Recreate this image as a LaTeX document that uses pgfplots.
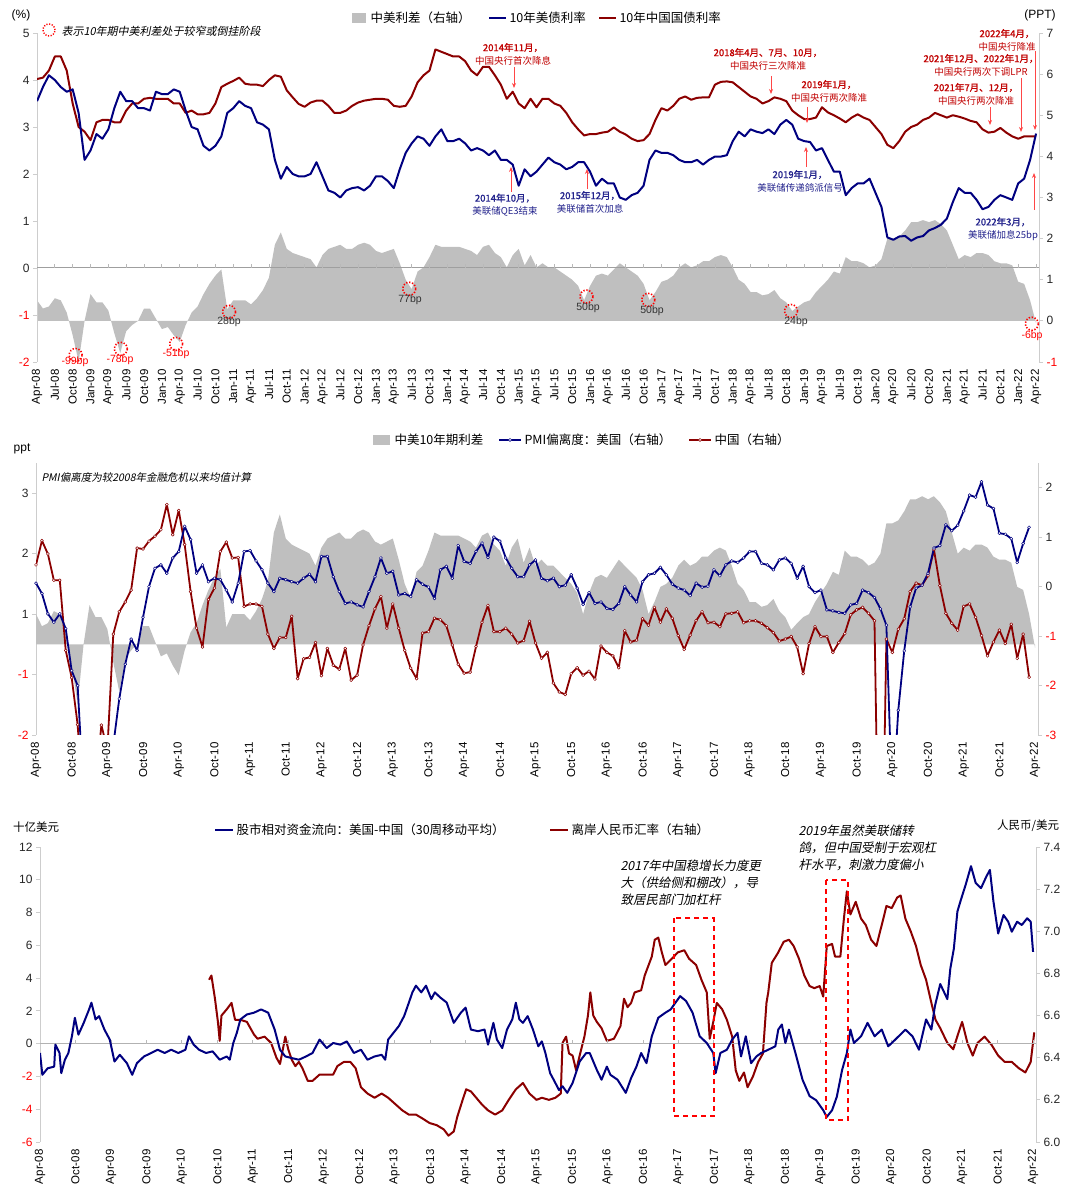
\documentclass[border=0pt]{standalone}
\usepackage{pgfplots}
\pgfplotsset{compat=1.18}
\usepackage{pgfplotstable}
\usetikzlibrary{arrows.meta}
\usepackage{fontspec}
\setmainfont{Liberation Sans}
\newfontfamily\cjk{Noto Sans CJK SC}
\newfontfamily\cjkit[FakeSlant=0.2]{Noto Sans CJK SC}
\newfontfamily\cjkb[FakeBold=1.5]{Noto Sans CJK SC}
\newcommand\fsz[2]{\fontsize{#1}{#2}\selectfont}
\definecolor{usblue}{RGB}{0,0,128}
\definecolor{cnred}{RGB}{139,0,0}
\definecolor{areagray}{RGB}{191,191,191}
\definecolor{annred}{RGB}{192,0,0}
\definecolor{arrred}{RGB}{255,70,70}
\definecolor{annblue}{RGB}{35,35,140}
\definecolor{axgray}{RGB}{205,205,205}
\newcommand\rd[1]{\textcolor{red}{#1}}

\pgfplotstableread{
m cn us sp
0 4.02 3.55 0.5
1 4.05 3.85 0.3
2 4.2 4.1 0.35
3 4.5 4.0 0.55
4 4.5 3.85 0.5
5 4.2 3.75 0.2
6 3.5 3.8 -0.35
7 3.0 3.3 -0.99
8 2.9 2.3 0.0
9 2.72 2.5 0.65
10 3.1 2.85 0.45
11 3.15 2.75 0.45
12 3.15 2.95 0.25
13 3.1 3.4 -0.3
14 3.1 3.75 -0.78
15 3.35 3.55 -0.25
16 3.5 3.55 -0.1
17 3.5 3.4 0.0
18 3.6 3.4 0.3
19 3.62 3.35 0.3
20 3.6 3.75 0.05
21 3.6 3.7 -0.2
22 3.6 3.7 -0.15
23 3.5 3.8 -0.35
24 3.5 3.75 -0.51
25 3.3 3.35 -0.1
26 3.35 3.0 0.2
27 3.27 2.95 0.35
28 3.27 2.6 0.65
29 3.3 2.5 0.9
30 3.5 2.6 1.1
31 3.85 2.8 1.25
32 3.92 3.3 0.28
33 3.98 3.4 0.5
34 4.05 3.55 0.5
35 3.92 3.45 0.5
36 3.9 3.4 0.4
37 3.9 3.1 0.55
38 3.87 3.05 0.75
39 4.0 2.95 1.05
40 4.1 2.3 1.85
41 4.07 1.9 2.15
42 3.78 2.15 1.75
43 3.63 2.0 1.65
44 3.49 1.95 1.6
45 3.43 1.95 1.55
46 3.52 2.0 1.5
47 3.56 2.25 1.3
48 3.56 1.95 1.6
49 3.45 1.65 1.75
50 3.3 1.6 1.8
51 3.3 1.5 1.85
52 3.35 1.65 1.75
53 3.45 1.7 1.75
54 3.52 1.72 1.85
55 3.56 1.65 1.9
56 3.58 1.75 1.85
57 3.6 1.95 1.7
58 3.6 1.95 1.65
59 3.58 1.85 1.7
60 3.45 1.7 1.75
61 3.43 2.1 1.4
62 3.45 2.45 1.0
63 3.65 2.65 0.77
64 3.95 2.8 1.2
65 4.1 2.75 1.3
66 4.2 2.6 1.55
67 4.65 2.8 1.85
68 4.6 2.95 1.8
69 4.55 2.7 1.8
70 4.5 2.7 1.8
71 4.5 2.75 1.8
72 4.4 2.65 1.75
73 4.2 2.5 1.7
74 4.1 2.55 1.6
75 4.28 2.5 1.8
76 4.28 2.4 1.85
77 4.1 2.5 1.65
78 3.9 2.3 1.55
79 3.6 2.3 1.3
80 3.75 2.2 1.6
81 3.5 1.75 1.75
82 3.4 2.1 1.35
83 3.6 1.95 1.6
84 3.42 2.05 1.3
85 3.6 2.2 1.4
86 3.6 2.35 1.3
87 3.5 2.25 1.3
88 3.45 2.2 1.2
89 3.3 2.1 1.1
90 3.1 2.15 1.0
91 2.95 2.25 0.85
92 2.82 2.25 0.5
93 2.85 2.05 0.85
94 2.85 1.75 1.1
95 2.88 1.9 1.15
96 2.9 1.8 1.1
97 2.99 1.8 1.25
98 2.9 1.5 1.4
99 2.84 1.45 1.3
100 2.75 1.55 1.2
101 2.7 1.6 1.1
102 2.72 1.75 0.9
103 2.85 2.3 0.5
104 3.15 2.5 0.7
105 3.4 2.45 0.95
106 3.35 2.45 1.0
107 3.45 2.4 1.1
108 3.6 2.3 1.3
109 3.65 2.25 1.4
110 3.58 2.25 1.3
111 3.62 2.3 1.35
112 3.63 2.2 1.45
113 3.63 2.3 1.45
114 3.9 2.37 1.55
115 3.96 2.37 1.6
116 3.97 2.4 1.55
117 3.95 2.7 1.3
118 3.85 2.9 1.0
119 3.75 2.8 0.9
120 3.65 2.95 0.7
121 3.6 2.9 0.7
122 3.5 2.87 0.62
123 3.55 2.95 0.65
124 3.63 2.85 0.75
125 3.6 3.05 0.55
126 3.55 3.15 0.45
127 3.35 3.05 0.24
128 3.25 2.75 0.35
129 3.17 2.7 0.45
130 3.17 2.68 0.5
131 3.2 2.5 0.7
132 3.42 2.55 0.85
133 3.31 2.3 1.0
134 3.25 2.05 1.2
135 3.18 2.05 1.15
136 3.1 1.55 1.55
137 3.2 1.7 1.45
138 3.27 1.8 1.45
139 3.2 1.8 1.4
140 3.15 1.9 1.3
141 3.0 1.6 1.35
142 2.85 1.3 1.5
143 2.62 0.65 2.0
144 2.55 0.6 2.0
145 2.7 0.67 2.05
146 2.9 0.68 2.2
147 3.0 0.58 2.4
148 3.05 0.65 2.4
149 3.15 0.68 2.45
150 3.2 0.8 2.4
151 3.3 0.85 2.45
152 3.25 0.92 2.35
153 3.2 1.05 2.2
154 3.25 1.4 1.85
155 3.22 1.7 1.5
156 3.18 1.6 1.6
157 3.13 1.6 1.55
158 3.1 1.45 1.65
159 2.95 1.25 1.65
160 2.88 1.3 1.6
161 2.9 1.45 1.45
162 2.98 1.55 1.4
163 2.88 1.5 1.4
164 2.8 1.45 1.35
165 2.75 1.8 0.95
166 2.8 1.9 0.9
167 2.8 2.3 0.5
168 2.8 2.86 -0.06
}\tabA

\pgfplotstableread{
m us cn
0 0.07 0.44
1 -0.14 0.93
2 -0.55 0.66
3 -0.72 0.13
4 -0.55 0.13
5 -0.85 -1.29
6 -1.7 -1.84
7 -2.0 -2.79
8 -4.2 -4.5
9 -5.0 -5.0
10 -5.0 -4.0
11 -4.5 -2.8
12 -4.0 -3.3
13 -3.2 -0.96
14 -2.27 -0.51
15 -1.57 -0.31
16 -1.06 -0.07
17 -1.29 0.78
18 -0.62 0.76
19 0.0 0.92
20 0.37 1.02
21 0.44 1.15
22 0.27 1.66
23 0.58 1.05
24 0.71 1.54
25 1.22 0.85
26 0.95 -0.1
27 0.27 -0.84
28 0.44 -1.22
29 0.1 -0.26
30 0.17 -0.03
31 0.14 0.71
32 -0.07 0.9
33 -0.31 0.58
34 0.07 0.59
35 0.71 -0.4
36 0.73 -0.35
37 0.52 -0.35
38 0.34 -0.4
39 0.07 -0.96
40 -0.1 -1.25
41 0.17 -1.03
42 0.14 -1.03
43 0.1 -0.6
44 0.07 -1.86
45 0.17 -1.46
46 0.25 -1.43
47 0.1 -1.13
48 0.61 -1.8
49 0.61 -1.25
50 0.2 -1.59
51 -0.1 -1.67
52 -0.34 -1.25
53 -0.31 -1.89
54 -0.37 -1.79
55 -0.41 -1.18
56 -0.1 -0.79
57 0.2 -0.45
58 0.58 -0.2
59 0.27 -0.84
60 0.31 -0.35
61 -0.17 -0.84
62 -0.14 -1.29
63 -0.2 -1.65
64 0.14 -1.86
65 0.05 -0.94
66 -0.01 -0.91
67 -0.24 -0.64
68 0.34 -0.67
69 0.41 -0.79
70 0.17 -1.18
71 0.83 -1.57
72 0.51 -1.75
73 0.47 -1.73
74 0.71 -1.21
75 0.88 -0.72
76 0.59 -0.38
77 1.0 -0.91
78 0.92 -0.91
79 0.58 -0.84
80 0.37 -0.96
81 0.2 -1.14
82 0.2 -1.09
83 0.44 -0.7
84 0.54 -1.14
85 0.17 -1.45
86 0.12 -1.33
87 0.17 -1.95
88 0.0 -2.13
89 0.03 -2.18
90 0.24 -1.76
91 -0.03 -1.64
92 -0.36 -1.79
93 -0.12 -1.71
94 -0.34 -1.87
95 -0.31 -1.2
96 -0.44 -1.33
97 -0.46 -1.4
98 -0.34 -1.64
99 0.0 -0.89
100 -0.17 -1.12
101 -0.31 -1.08
102 0.1 -0.65
103 0.24 -0.78
104 0.27 -0.42
105 0.39 -0.72
106 0.24 -0.45
107 0.05 -0.64
108 -0.03 -0.99
109 -0.07 -1.27
110 -0.18 -0.98
111 0.07 -0.69
112 -0.01 -0.51
113 0.01 -0.73
114 0.34 -0.72
115 0.22 -0.81
116 0.44 -0.55
117 0.52 -0.54
118 0.49 -0.51
119 0.58 -0.73
120 0.71 -0.69
121 0.71 -0.69
122 0.47 -0.74
123 0.44 -0.83
124 0.34 -0.93
125 0.54 -1.1
126 0.58 -1.06
127 0.47 -1.01
128 0.17 -1.22
129 0.41 -1.76
130 0.0 -1.15
131 -0.12 -0.81
132 -0.07 -1.01
133 -0.47 -1.01
134 -0.49 -1.33
135 -0.52 -1.13
136 -0.54 -0.95
137 -0.37 -0.57
138 -0.34 -0.47
139 -0.07 -0.42
140 -0.12 -0.54
141 -0.22 -0.69
142 -0.45 -8.0
143 -0.78 -1.06
144 -4.5 -1.33
145 -2.5 -0.86
146 -1.3 -0.65
147 -0.41 -0.1
148 -0.03 0.07
149 0.03 0.03
150 0.27 0.22
151 0.78 0.75
152 0.83 0.02
153 1.25 -0.54
154 1.13 -0.74
155 1.24 -0.88
156 1.53 -0.4
157 1.85 -0.35
158 1.81 -0.62
159 2.12 -0.99
160 1.65 -1.4
161 1.58 -1.12
162 1.08 -0.88
163 1.06 -1.15
164 0.97 -0.76
165 0.49 -1.45
166 0.87 -0.96
167 1.2 -1.83
}\tabB

\pgfplotstableread{
x y
0 -0.57
0.4 -1.9
1.3 -1.5
2.4 -1.4
2.6 -0.06
3.3 -0.57
3.6 -1.8
4.2 -1.0
4.8 -0.57
5.4 0.45
5.9 1.58
6.5 0.55
7.4 1.27
8.3 2.09
8.7 2.5
9.4 1.48
10 1.68
10.9 0.86
11.8 0.25
12.6 -1.09
13.5 -0.68
14.7 -1.19
15.6 -1.9
16.4 -1.19
17.6 -0.78
18.8 -0.57
19.9 -0.37
21.1 -0.57
22.2 -0.37
23.4 -0.57
24.6 -0.37
25.2 0.45
26 -0.06
26.9 -0.37
28.1 -0.57
29.2 -0.47
30.4 -0.98
31.6 -0.78
32.1 -0.98
32.7 0.04
33.3 0.66
33.9 1.48
35 1.78
36.2 1.89
37.4 2.09
38.6 1.89
39.7 0.86
40.6 -0.37
41.5 -0.78
42.6 -0.88
43.8 -0.98
45 -0.78
46.1 -0.57
47.3 0.25
48.5 -0.27
49.6 0.04
50.8 -0.06
51.9 0.14
53.1 -0.57
54.3 -0.37
55.4 -0.98
56.6 -0.78
57.8 -0.68
58.4 -0.98
58.9 0.25
59.8 0.66
60.7 1.07
61.6 1.68
62.4 2.5
63 3.13
63.6 3.54
64.5 3.13
65.3 3.54
66.2 2.72
66.8 3.13
67.7 2.82
68.8 2.51
70 1.27
71.2 1.89
72 2.2
72.9 0.86
74.1 0.76
75.2 0.86
75.8 -0.06
76.7 1.27
77.3 0.25
78.2 -0.27
79 0.86
79.9 1.48
80.5 2.5
81.1 1.48
81.7 1.27
82.5 1.68
83.4 0.86
84.3 -0.16
84.9 0.14
85.5 -0.57
86.3 -1.8
86.9 -2.2
87.8 -2.83
88.4 -2.6
89.2 -3.0
90.1 -2.4
91.3 -1.09
92.4 -0.57
93 -0.57
94.2 -1.6
95 -2.2
95.9 -1.4
96.5 -1.9
97.7 -2.2
99.1 -3.0
100 -2.1
100.9 -1.4
101.7 -0.57
102.6 -1.19
103.5 0.45
104.6 1.58
105.8 1.89
106.7 2.09
107.5 2.5
108.3 2.9
109.3 2.6
110.4 1.89
111.6 0.45
112.8 0.04
113.9 -0.57
114.3 -1.8
115.1 -0.57
116.2 -0.37
117.1 0.25
118 0.66
118.6 -0.78
119.4 0.45
120.3 -1.19
121.2 -0.78
122 -0.57
123.2 -0.37
124.4 -0.16
124.9 0.86
125.5 1.17
126.1 0.04
126.7 0.86
127.8 -0.57
129 -2.2
130.2 -3.2
131.3 -3.45
132.5 -4.06
133.1 -4.47
134 -4.06
134.8 -3.24
135.7 -1.6
136.5 -0.57
137.1 0.86
137.7 0.04
138.9 0.45
140 1.27
141.2 0.45
142.4 0.86
143.5 -0.16
144.7 0.25
146.4 0.86
147.6 0.45
148.7 -0.37
149.9 1.48
150.8 0.86
151.4 2.3
152.3 3.64
153.5 2.72
154 4.57
154.6 5.8
155.2 8.06
155.7 8.67
156.6 9.7
157.5 10.83
158.3 9.8
159.2 9.49
160.1 10.2
160.7 10.6
161.3 8.67
162.1 6.72
163 7.85
163.8 7.44
164.4 6.83
165.3 7.44
166.1 7.24
167 7.65
167.6 7.44
168 5.6
}\tabC

\pgfplotstableread{
x y
28.6 6.77
29 6.79
29.6 6.68
30.1 6.57
30.4 6.48
30.7 6.6
31.6 6.63
32.4 6.66
33 6.58
33.9 6.58
35 6.57
36.2 6.51
36.8 6.49
38 6.5
39.1 6.47
40 6.4
40.6 6.37
41.5 6.5
42 6.44
42.6 6.39
43.2 6.36
43.8 6.38
44.4 6.35
45.3 6.29
46.1 6.29
47.3 6.32
48.5 6.32
49.6 6.32
50.3 6.36
51.4 6.38
52.5 6.38
53.4 6.35
54.3 6.26
55.4 6.23
56.6 6.21
57.8 6.23
58.9 6.21
60.1 6.18
61.3 6.15
62.4 6.13
63.6 6.13
64.8 6.11
65.9 6.09
67.1 6.08
68.3 6.06
69.1 6.03
70 6.05
70.6 6.12
71.5 6.2
72.1 6.25
72.9 6.24
73.8 6.21
74.7 6.18
75.8 6.15
77 6.13
78.2 6.15
79.3 6.2
80.5 6.25
81.7 6.28
82.8 6.23
84 6.2
84.9 6.21
86.1 6.2
87.2 6.21
88.1 6.23
88.4 6.47
89 6.5
89.5 6.42
90.1 6.41
90.7 6.34
91.3 6.41
92.1 6.5
92.7 6.6
93.1 6.71
93.6 6.6
94.2 6.57
95 6.54
95.9 6.48
97.1 6.49
98.2 6.55
98.8 6.68
99.4 6.64
100 6.66
100.6 6.71
101.7 6.72
102.3 6.79
103.5 6.88
104 6.96
104.6 6.97
105.2 6.9
105.8 6.84
106.9 6.87
107.9 6.9
109 6.91
109.8 6.87
111 6.84
111.9 6.77
112.8 6.71
113.3 6.49
113.9 6.57
114.5 6.66
115.4 6.63
116.2 6.58
117.1 6.5
117.7 6.34
118.3 6.29
119.1 6.33
119.7 6.26
120.6 6.31
121.5 6.38
122.3 6.42
122.9 6.66
123.2 6.71
123.8 6.85
124.9 6.9
125.8 6.95
126.7 6.96
127.5 6.93
128.4 6.87
129.3 6.79
130.2 6.74
131 6.73
131.9 6.74
132.5 6.69
133.1 6.93
134 6.94
134.5 6.88
135.4 6.88
136 7.06
136.5 7.19
137.1 7.08
138 7.14
138.9 7.06
139.7 7.03
140.6 6.96
141.5 6.93
142.4 7.03
143.2 7.12
144.1 7.11
145 7.16
145.6 7.17
146.4 7.06
147.3 7.0
148.2 6.93
149 6.84
149.9 6.77
150.8 6.66
151.5 6.58
152.3 6.54
153.5 6.47
154.5 6.44
155.4 6.52
156 6.57
156.9 6.47
157.8 6.41
158.6 6.47
159.8 6.5
161 6.46
162.1 6.41
163.2 6.38
164.4 6.38
165.6 6.35
166.7 6.33
167.6 6.38
168.2 6.52
}\tabD

\pgfplotsset{
  base/.style={scale only axis, anchor=south west, xmin=0, xmax=168.5,
    /pgf/number format/assume math mode=true,
    tick label style={font=\fsz{12}{12}, text=black!85},
    axis line style={draw=axgray, line width=0.9pt},
    tick align=outside, major tick length=4pt,
    tick style={draw=axgray, line width=0.9pt},
  },
  xlab/.style={axis x line*=bottom, x axis line style={draw=none},
    major x tick style={draw=none},
    xticklabel style={rotate=90, anchor=east, font=\fsz{11.5}{12}, text=black},
  },
}

\begin{document}
\begin{tikzpicture}
\path[use as bounding box] (0pt,0pt) rectangle (1080pt,1196pt);

%%%%%%%% PANEL 1
\begin{axis}[base, xlab, at={(37pt,834pt)}, width=1002pt, height=329pt,
  ymin=-1, ymax=7, axis y line*=right,
  xtick={0,3,...,168},
  xticklabels={Apr-08,Jul-08,Oct-08,Jan-09,Apr-09,Jul-09,Oct-09,Jan-10,Apr-10,Jul-10,Oct-10,Jan-11,Apr-11,Jul-11,Oct-11,Jan-12,Apr-12,Jul-12,Oct-12,Jan-13,Apr-13,Jul-13,Oct-13,Jan-14,Apr-14,Jul-14,Oct-14,Jan-15,Apr-15,Jul-15,Oct-15,Jan-16,Apr-16,Jul-16,Oct-16,Jan-17,Apr-17,Jul-17,Oct-17,Jan-18,Apr-18,Jul-18,Oct-18,Jan-19,Apr-19,Jul-19,Oct-19,Jan-20,Apr-20,Jul-20,Oct-20,Jan-21,Apr-21,Jul-21,Oct-21,Jan-22,Apr-22},
  ytick={-1,0,...,7}, yticklabels={\rd{-1},0,1,2,3,4,5,6,7}]
\addplot[fill=areagray, draw=none] table[x=m,y=sp]{\tabA} \closedcycle;
\addplot[only marks, mark=o, mark size=6.5pt, mark options={draw=red, line width=1.6pt, dash pattern=on 1.3pt off 1.7pt}]
 coordinates {(6.5,-0.83) (14.1,-0.68) (23.4,-0.56) (32.3,0.22) (62.6,0.78) (92.4,0.59) (102.8,0.51) (126.8,0.24) (167.3,-0.07)};
\end{axis}

\begin{axis}[base, at={(37pt,834pt)}, width=1002pt, height=329pt,
  ymin=-2, ymax=5, axis y line*=left, axis x line=none,
  ytick={-2,-1,...,5}, yticklabels={\rd{-2},\rd{-1},0,1,2,3,4,5}]
\draw[gray!75, line width=1pt] (axis cs:0,0) -- (axis cs:168.5,0);
\pgfplotsinvokeforeach{3,6,...,168}{\draw[gray!55, line width=0.8pt] (axis cs:#1,0) -- ++(0pt,4pt);}
\addplot[cnred, line width=2pt, line join=round] table[x=m,y=cn]{\tabA};
\addplot[usblue, line width=2pt, line join=round] table[x=m,y=us]{\tabA};
\end{axis}

%%%%%%%% PANEL 2
\begin{axis}[base, xlab, at={(36pt,461pt)}, width=1002pt, height=272pt,
  ymin=-1.5, ymax=3.0, axis y line*=left,
  xtick={0,6,...,168},
  xticklabels={Apr-08,Oct-08,Apr-09,Oct-09,Apr-10,Oct-10,Apr-11,Oct-11,Apr-12,Oct-12,Apr-13,Oct-13,Apr-14,Oct-14,Apr-15,Oct-15,Apr-16,Oct-16,Apr-17,Oct-17,Apr-18,Oct-18,Apr-19,Oct-19,Apr-20,Oct-20,Apr-21,Oct-21,Apr-22},
  ytick={-1.5,-0.5,0.5,1.5,2.5}, yticklabels={\rd{-2},\rd{-1},1,2,3}]
\addplot[fill=areagray, draw=none] table[x=m,y=sp]{\tabA} \closedcycle;
\end{axis}

\begin{axis}[base, at={(36pt,461pt)}, width=1002pt, height=272pt,
  ymin=-3, ymax=2.5, axis y line*=right, axis x line=none,
  ytick={-3,-2,...,2}, yticklabels={\rd{-3},\rd{-2},\rd{-1},0,1,2}]
\addplot[cnred, line width=1.8pt, line join=round, mark=*, mark size=1.5pt,
  mark options={fill=white, draw=cnred, line width=0.5pt}] table[x=m,y=cn]{\tabB};
\addplot[usblue, line width=1.8pt, line join=round, mark=*, mark size=1.5pt,
  mark options={fill=white, draw=usblue, line width=0.5pt}] table[x=m,y=us]{\tabB};
\end{axis}

%%%%%%%% PANEL 3
\begin{axis}[base, xlab, at={(40pt,54pt)}, width=996pt, height=295pt,
  ymin=6.0, ymax=7.4, axis y line*=right,
  xtick={0,6,...,168},
  xticklabels={Apr-08,Oct-08,Apr-09,Oct-09,Apr-10,Oct-10,Apr-11,Oct-11,Apr-12,Oct-12,Apr-13,Oct-13,Apr-14,Oct-14,Apr-15,Oct-15,Apr-16,Oct-16,Apr-17,Oct-17,Apr-18,Oct-18,Apr-19,Oct-19,Apr-20,Oct-20,Apr-21,Oct-21,Apr-22},
  ytick={6.0,6.2,...,7.41}, yticklabels={6.0,6.2,6.4,6.6,6.8,7.0,7.2,7.4}]
\addplot[cnred, line width=2pt, line join=round] table[x=x,y=y]{\tabD};
\end{axis}

\begin{axis}[base, at={(40pt,54pt)}, width=996pt, height=295pt,
  ymin=-6, ymax=12, axis y line*=left, axis x line=none,
  ytick={-6,-4,...,12}, yticklabels={\rd{-6},\rd{-4},\rd{-2},0,2,4,6,8,10,12}]
\draw[gray!60, line width=1pt] (axis cs:0,0) -- (axis cs:168.5,0);
\pgfplotsinvokeforeach{6,12,...,168}{\draw[gray!55, line width=0.8pt] (axis cs:#1,0) -- ++(0pt,4pt);}
\addplot[usblue, line width=2pt, line join=round] table[x=x,y=y]{\tabC};
\draw[red, line width=1.6pt, dash pattern=on 5pt off 4pt] (axis cs:107.3,7.67) rectangle (axis cs:114.0,-4.41);
\draw[red, line width=1.6pt, dash pattern=on 5pt off 4pt] (axis cs:133.0,9.99) rectangle (axis cs:136.7,-4.66);
\end{axis}

%%%%%%%% ANNOTATIONS
\begin{scope}[x=1pt,y=1pt]
% panel 1 header
\node[font=\fsz{12}{12}] at (21,1181) {(\%)};
\node[font=\fsz{12}{12}] at (1040,1181) {(PPT)};
\draw[red, line width=1.4pt, dash pattern=on 1.2pt off 1.5pt] (49,1166) circle (6);
\node[anchor=west, font=\cjkit\fsz{11}{11}] at (58,1165) {表示10年期中美利差处于较窄或倒挂阶段};
\fill[areagray] (352,1173) rectangle (366,1183);
\node[anchor=west, font=\cjk\fsz{12.5}{12.5}] at (367,1178) {中美利差（右轴）};
\draw[usblue, line width=2.5pt] (489,1178) -- (506,1178);
\node[anchor=west, font=\cjk\fsz{12.5}{12.5}] at (506,1178) {10年美债利率};
\draw[cnred, line width=2.5pt] (599,1178) -- (616,1178);
\node[anchor=west, font=\cjk\fsz{12.5}{12.5}] at (616,1178) {10年中国国债利率};
% red annotations
\tikzset{ann/.style={align=center, font=\cjk\fsz{9.5}{13}}, arr/.style={arrred, line width=0.8pt, -{Stealth[length=5pt,width=4pt]}}}
\node[ann, text=annred] at (513,1142) {{\cjkb 2014年11月，}\\中国央行首次降息};
\draw[arr] (514,1129) -- (514,1108);
\node[ann, text=annred] at (768,1137) {{\cjkb 2018年4月、7月、10月，}\\中国央行三次降准};
\draw[arr] (771,1120) -- (771,1102);
\node[ann, text=annred] at (829,1105) {{\cjkb 2019年1月，}\\中国央行两次降准};
\draw[arr] (807,1089) -- (807,1073);
\node[ann, text=annred] at (1007,1156) {{\cjkb 2022年4月，}\\中国央行降准};
\draw[arr] (1035,1145) -- (1035,1066);
\node[ann, text=annred] at (981,1131) {{\cjkb 2021年12月、2022年1月，}\\中国央行两次下调LPR};
\draw[arr] (1021,1118) -- (1021,1064);
\node[ann, text=annred] at (976,1102) {{\cjkb 2021年7月、12月，}\\中国央行两次降准};
\draw[arr] (990,1089) -- (990,1071);
% blue annotations
\node[ann, text=annblue] at (505,991) {{\cjkb 2014年10月，}\\美联储QE3结束};
\draw[arr] (511,1004) -- (511,1029);
\node[ann, text=annblue] at (590,994) {{\cjkb 2015年12月，}\\美联储首次加息};
\draw[arr] (587,1007) -- (587,1027);
\node[ann, text=annblue] at (800,1015) {{\cjkb 2019年1月，}\\美联储传递鸽派信号};
\draw[arr] (806,1029) -- (806,1049);
\node[ann, text=annblue] at (1003,967) {{\cjkb 2022年3月，}\\美联储加息25bp};
\draw[arr] (1034,986) -- (1034,1023);
% circle labels
\tikzset{bp/.style={font=\fsz{10.5}{10.5}}}
\node[bp, text=red] at (75,834) {-99bp};
\node[bp, text=red] at (120,836) {-78bp};
\node[bp, text=red] at (176,842) {-51bp};
\node[bp, text=black!80] at (229,874) {28bp};
\node[bp, text=black!80] at (410,896) {77bp};
\node[bp, text=black!80] at (588,888) {50bp};
\node[bp, text=black!80] at (652,885) {50bp};
\node[bp, text=black!80] at (796,874) {24bp};
\node[bp, text=red] at (1032,860) {-6bp};

% panel 2 header
\node[font=\fsz{12}{12}] at (22,747) {ppt};
\fill[areagray] (373,751) rectangle (390,761);
\node[anchor=west, font=\cjk\fsz{12.5}{12.5}] at (391,756) {中美10年期利差};
\draw[usblue, line width=2.2pt] (499,756) -- (521,756);
\draw[usblue, fill=white, line width=0.5pt] (510,756) circle (1.6);
\node[anchor=west, font=\cjk\fsz{12.5}{12.5}] at (521,756) {PMI偏离度：美国（右轴）};
\draw[cnred, line width=2.2pt] (689,756) -- (711,756);
\draw[cnred, fill=white, line width=0.5pt] (700,756) circle (1.6);
\node[anchor=west, font=\cjk\fsz{12.5}{12.5}] at (711,756) {中国（右轴）};
\node[anchor=west, font=\cjkit\fsz{10.5}{10.5}] at (38,718) {PMI偏离度为较2008年金融危机以来均值计算};

% panel 3 header
\node[font=\cjk\fsz{11.5}{11.5}] at (36,369) {十亿美元};
\node[font=\cjk\fsz{11.5}{11.5}] at (1028,370) {人民币/美元};
\draw[usblue, line width=2.5pt] (215,366) -- (233,366);
\node[anchor=west, font=\cjk\fsz{12.5}{12.5}] at (233,366) {股市相对资金流向：美国-中国（30周移动平均）};
\draw[cnred, line width=2.5pt] (550,366) -- (568,366);
\node[anchor=west, font=\cjk\fsz{12.5}{12.5}] at (568,366) {离岸人民币汇率（右轴）};
\node[anchor=north west, align=left, font=\cjkit\fsz{12.5}{17}] at (617,340) {2017年中国稳增长力度更\\大（供给侧和棚改），导\\致居民部门加杠杆};
\node[anchor=north west, align=left, font=\cjkit\fsz{12.5}{17}] at (795,375) {2019年虽然美联储转\\鸽，但中国受制于宏观杠\\杆水平，刺激力度偏小};
\end{scope}
\end{tikzpicture}
\end{document}
